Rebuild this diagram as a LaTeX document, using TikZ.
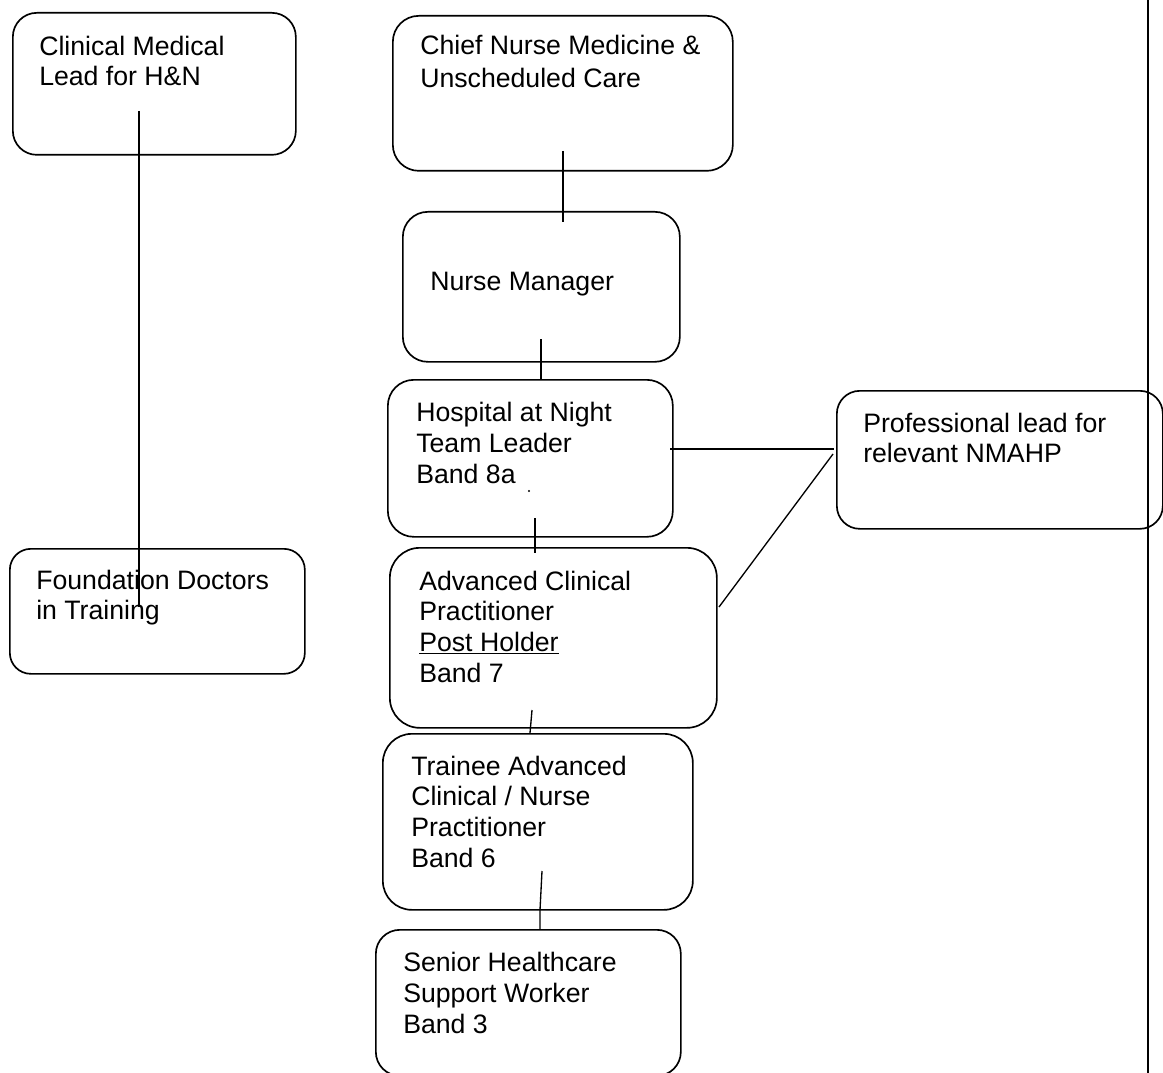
\documentclass[tikz,border=0pt]{standalone}
\usepackage{fontspec}
\setmainfont{Liberation Sans}
\begin{document}
\begin{tikzpicture}[x=0.75pt,y=-0.75pt,
  orgbox/.style={draw, line width=1.25pt, rounded corners=#1, inner sep=0pt, anchor=north west},
  lbl/.style={anchor=base west, align=left, inner sep=0pt, font=\fontsize{20}{23}\selectfont},
  conn/.style={line width=1pt}]
\useasboundingbox (0,0) rectangle (1163,1073);
% boxes
\node[orgbox=18pt, minimum width=212.25pt, minimum height=106.5pt] (clin) at (12,12) {};
\node[orgbox=19.5pt, minimum width=255pt, minimum height=116.25pt] (chief) at (392,15) {};
\node[orgbox=18.75pt, minimum width=207.75pt, minimum height=112.5pt] (nm) at (402,211) {};
\node[orgbox=19.5pt, minimum width=213.75pt, minimum height=117.75pt] (han) at (387,379) {};
\node[orgbox=22.5pt, minimum width=245.25pt, minimum height=135pt] (acp) at (389,547) {};
\node[orgbox=21.75pt, minimum width=232.5pt, minimum height=132pt] (tr) at (382,733) {};
\node[orgbox=18pt, minimum width=228.75pt, minimum height=109.5pt] (sen) at (375,929) {};
\node[orgbox=17.25pt, minimum width=244.5pt, minimum height=103.5pt] (prof) at (836,390) {};
\node[orgbox=15.75pt, minimum width=221.25pt, minimum height=93.75pt] (fd) at (9,548) {};
% texts (anchored at the baseline of their last line)
\node[lbl] (clin-t) at (39,85.7) {Clinical Medical\\Lead for H\&N};
\node[lbl, font=\fontsize{20}{25}\selectfont] (chief-t) at (420,87.5) {Chief Nurse Medicine \&\\Unscheduled Care};
\node[lbl] (nm-t) at (430,291) {Nurse Manager};
\node[lbl] (han-t) at (416,483) {Hospital at Night\\Team Leader\\Band 8a};
\node[lbl] (acp-t) at (419,682) {Advanced Clinical\\Practitioner\\\underline{Post Holder}\\Band 7};
\node[lbl] (tr-t) at (411,867) {Trainee Advanced\\Clinical / Nurse\\Practitioner\\Band 6};
\node[lbl] (sen-t) at (403,1033) {Senior Healthcare\\Support Worker\\Band 3};
\node[lbl] (prof-t) at (863,462.7) {Professional lead for\\relevant NMAHP};
\node[lbl] (fd-t) at (36,619.7) {Foundation Doctors\\in Training};
% stray dot
\fill (529,491) circle (0.8pt);
% connector end points
\coordinate (clin-o) at (139,111);  \coordinate (fd-i) at (139,607);
\coordinate (chief-o) at (563,151); \coordinate (nm-i) at (563,222);
\coordinate (nm-o) at (541,339);    \coordinate (han-i) at (541,380);
\coordinate (han-r) at (670,449);   \coordinate (prof-l) at (834,449);
\coordinate (prof-d) at (833,454);  \coordinate (acp-r) at (719,607);
\coordinate (han-o) at (535,518);   \coordinate (acp-i) at (535,553);
\coordinate (acp-o) at (532,710);   \coordinate (tr-i) at (530,733);
\coordinate (tr-o) at (542,871);    \coordinate (tr-b) at (540,910);
\coordinate (sen-i) at (540,929);
\coordinate (rl-top) at (1148,0);   \coordinate (rl-bot) at (1148,1073);
% connectors
\draw[conn] (clin-o) -- (fd-i);
\draw[conn] (chief-o) -- (nm-i);
\draw[conn] (nm-o) -- (han-i);
\draw[conn] (han-r) -- (prof-l);
\draw[conn] (prof-d) -- (acp-r);
\draw[conn] (han-o) -- (acp-i);
\draw[conn] (acp-o) -- (tr-i);
\draw[conn] (tr-o) -- (tr-b) -- (sen-i);
\draw[line width=1.7pt] (rl-top) -- (rl-bot);
\end{tikzpicture}
\end{document}
